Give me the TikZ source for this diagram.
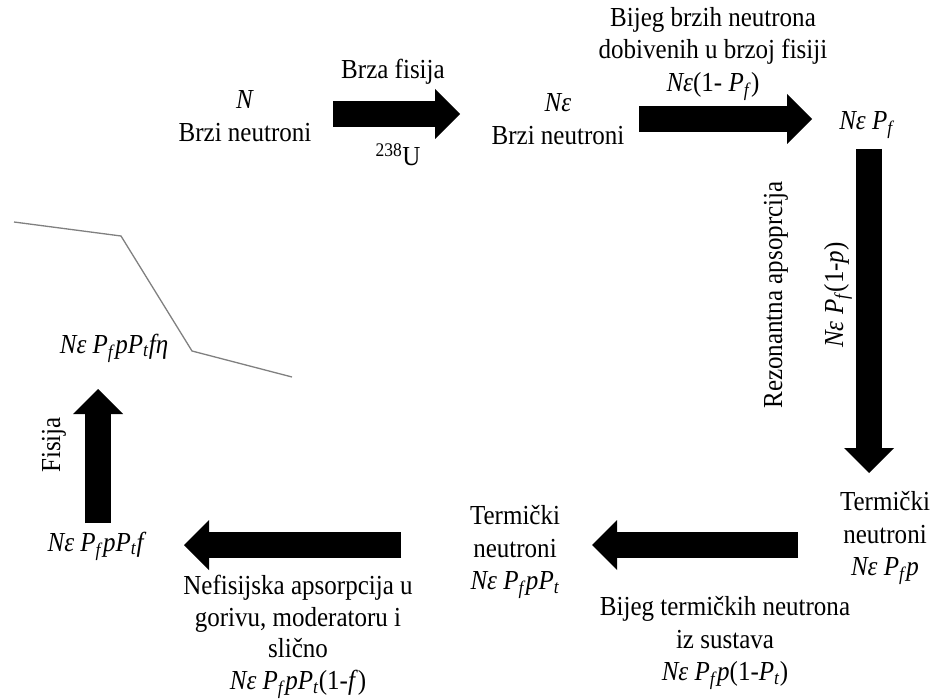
\documentclass[tikz,border=0pt]{standalone}
\usepackage{fontspec}
\setmainfont{Liberation Serif}[FakeStretch=0.91]
\usepackage{xcolor}
\usetikzlibrary{arrows.meta,positioning}
\definecolor{Ink}{HTML}{000000}
\definecolor{Trace}{HTML}{808080}
\newcommand{\Ne}{\textit{Nε}}
\newcommand{\Pf}{\textit{P}\textsubscript{\textit{f}}}
\newcommand{\Pt}{\textit{P}\textsubscript{\textit{t}}}

\begin{document}
\begin{tikzpicture}[
  x=1pt,y=-1pt,
  lbl/.style={align=center,inner sep=0pt,font=\fontsize{27.5}{32.5}\selectfont},
  vlbl/.style={lbl,rotate=90},
  flow/.style={line width=26pt,draw=Ink,-{Triangle[width=50pt,length=25pt,line width=0pt]}},
  trace/.style={draw=Trace,line width=1.3pt}
]
\useasboundingbox (0,0) rectangle (936,700);
\node[lbl] (fast) at (245,116) {\textit{N}\\Brzi neutroni};
\node[lbl] (fastfis) at (393,72) {Brza fisija};
\node[lbl] (uran) at (398,155) {\textsuperscript{238}U};
\node[lbl] (fasteps) at (558,119) {\Ne\\Brzi neutroni};
\node[lbl] (leakfast) at (713,54) {Bijeg brzih neutrona\\dobivenih u brzoj fisiji\\\Ne(1- \Pf)};
\node[lbl] (nonleak) at (867,125) {\Ne{} \Pf};
\node[vlbl] (reson) at (776,295) {Rezonantna apsoprcija};
\node[vlbl] (resonval) at (838,295) {\Ne{} \Pf(1-\textit{p})};
\node[lbl] (therm) at (885,538) {Termički\\neutroni\\\Ne{} \Pf\textit{p}};
\node[lbl] (thermleft) at (515,552) {Termički\\neutroni\\\Ne{} \Pf\textit{p}\Pt};
\node[lbl] (leaktherm) at (725,643) {Bijeg termičkih neutrona\\iz sustava\\\Ne{} \Pf\textit{p}(1-\Pt)};
\node[lbl] (absorb) at (97,546) {\Ne{} \Pf\textit{p}\Pt\textit{f}};
\node[lbl,font=\fontsize{27.5}{31.5}\selectfont] (nonfis) at (298,637) {Nefisijska apsorpcija u\\gorivu, moderatoru i\\slično\\\Ne{} \Pf\textit{p}\Pt(1-\textit{f})};
\node[vlbl] (fis) at (54,445) {Fisija};
\node[lbl] (yield) at (114,348) {\Ne{} \Pf\textit{p}\Pt\textit{fη}};
% block arrows
\coordinate (f1a) at (333,114);
\coordinate (f1b) at (460,114);
\coordinate (f2a) at (639,119);
\coordinate (f2b) at (812,119);
\coordinate (f3a) at (869,149);
\coordinate (f3b) at (869,473);
\coordinate (f4a) at (798,545);
\coordinate (f4b) at (592,545);
\coordinate (f5a) at (401,545);
\coordinate (f5b) at (184,545);
\coordinate (f6a) at (98,523);
\coordinate (f6b) at (98,389);
\draw[flow] (f1a) -- (f1b);
\draw[flow] (f2a) -- (f2b);
\draw[flow] (f3a) -- (f3b);
\draw[flow] (f4a) -- (f4b);
\draw[flow] (f5a) -- (f5b);
\draw[flow] (f6a) -- (f6b);
% grey trace
\draw[trace] (14,222) -- (121,236) -- (192,351) -- (292,377);
\end{tikzpicture}
\end{document}
